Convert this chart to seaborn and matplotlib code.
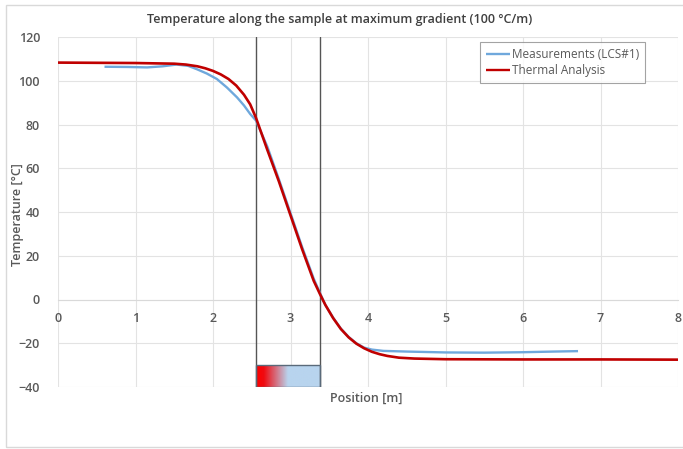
import matplotlib
matplotlib.use("Agg")
import matplotlib.pyplot as plt
import numpy as np
import pandas as pd
import seaborn as sns
from matplotlib.patches import Rectangle
from matplotlib.colors import LinearSegmentedColormap

# ---- data ----
red_x = [0.0, 0.5, 1.0, 1.5, 1.65, 1.8, 1.9, 2.0, 2.1, 2.2, 2.3, 2.4, 2.48, 2.555, 2.7, 2.85,
         3.0, 3.15, 3.3, 3.38, 3.45, 3.55, 3.65, 3.75, 3.85, 3.95, 4.05, 4.15, 4.25, 4.4,
         4.6, 5.0, 6.0, 7.0, 8.0]
red_y = [108.3, 108.2, 108.1, 107.8, 107.4, 106.6, 105.7, 104.5, 102.9, 100.8, 97.8, 93.6,
         89.2, 83.0, 68.5, 54.0, 38.5, 23.0, 8.5, 2.5, -2.5, -8.5, -13.5, -17.3, -20.2,
         -22.3, -23.9, -25.0, -25.8, -26.6, -27.0, -27.3, -27.4, -27.4, -27.5]

blue_x = [0.6, 0.9, 1.15, 1.35, 1.53, 1.68, 1.79, 1.92, 2.05, 2.18, 2.31, 2.4, 2.48, 2.555,
          2.7, 2.85, 3.0, 3.15, 3.3, 3.38, 3.45, 3.55, 3.65, 3.75, 3.85, 3.95, 4.05, 4.2,
          4.5, 5.0, 5.5, 6.0, 6.4, 6.71]
blue_y = [106.4, 106.3, 106.1, 106.6, 107.4, 106.8, 105.3, 103.3, 100.8, 96.9, 92.4, 88.7,
          84.8, 81.8, 70.0, 55.0, 39.5, 24.0, 9.5, 3.0, -2.5, -8.3, -13.3, -17.1, -20.0,
          -22.0, -22.9, -23.5, -23.8, -24.2, -24.3, -24.1, -23.8, -23.6]

zone = [2.555, 3.38]          # analysed section (vertical lines)
bar_range = [-40, -30]        # coloured bar

x_ticks = [0, 1, 2, 3, 4, 5, 6, 7, 8]
y_ticks = [-40, -20, 0, 20, 40, 60, 80, 100, 120]

df = pd.concat([
    pd.DataFrame({"x": blue_x, "y": blue_y, "s": "Measurements (LCS#1)"}),
    pd.DataFrame({"x": red_x, "y": red_y, "s": "Thermal Analysis"}),
])

# ---- plot ----
sns.set_theme(style="white")
plt.rcParams["font.family"] = ["Open Sans", "DejaVu Sans"]

fig = plt.figure(figsize=(6.83, 4.49), dpi=100)
ax = fig.add_axes([58/683, 1-387/449, 620/683, 350/449])

tc = "#595959"
ax.set_xlim(0, 8)
ax.set_ylim(-40, 120)
ax.set_xticks(x_ticks)
ax.set_yticks(y_ticks)
ax.grid(True, color="#E3E3E3", lw=0.8)
ax.set_axisbelow(True)

for s in ["top", "right", "left"]:
    ax.spines[s].set_visible(False)
ax.spines["bottom"].set_position(("data", 0))
ax.spines["bottom"].set_color("#D9D9D9")
ax.spines["bottom"].set_linewidth(0.8)
ax.spines["bottom"].set_zorder(1)
ax.tick_params(axis="both", length=0, labelsize=9, labelcolor=tc)
ax.tick_params(axis="x", pad=9)
ax.tick_params(axis="y", pad=13)
for lab in ax.get_xticklabels() + ax.get_yticklabels():
    lab.set_fontweight("semibold")

sns.lineplot(data=df, x="x", y="y", hue="s",
             palette={"Measurements (LCS#1)": "#6FA8DC", "Thermal Analysis": "#C00000"},
             sort=False, estimator=None, ax=ax, legend=True)
for ln in ax.lines:
    c = matplotlib.colors.to_hex(ln.get_color()).lower()
    ln.set_linewidth(1.9 if c == "#c00000" else 1.7)
    ln.set_zorder(6 if c == "#c00000" else 5)
    ln.set_solid_joinstyle("round")
    ln.set_solid_capstyle("butt")

for xv in zone:
    ax.axvline(xv, color="#555555", lw=1.0, zorder=4)

cmap = LinearSegmentedColormap.from_list("g", [(0, "#FF0000"), (0.12, "#F00A10"),
                                              (0.5, "#B8D4EE"), (1, "#B8D4EE")])
grad = np.linspace(0, 1, 200).reshape(1, -1)
ax.imshow(grad, cmap=cmap, extent=[zone[0], zone[1], bar_range[0], bar_range[1]],
          aspect="auto", zorder=3)
ax.add_patch(Rectangle((zone[0], bar_range[0]), zone[1]-zone[0], bar_range[1]-bar_range[0],
                       fill=False, edgecolor="#5A6A7A", lw=1.0, zorder=4))
ax.set_xlim(0, 8)
ax.set_ylim(-40, 120)

ax.set_xlabel("")
ax.set_ylabel("")
leg = ax.legend(loc="upper left", bbox_to_anchor=((480-58)/620, (387-42)/350),
                frameon=True, fancybox=False, fontsize=8.5, handlelength=2.0,
                handletextpad=0.2, borderpad=0.5, labelspacing=0.25,
                borderaxespad=0)
leg.get_frame().set_edgecolor("#8C8C8C")
leg.get_frame().set_linewidth(0.8)
leg.set_zorder(10)
for t in leg.get_texts():
    t.set_color(tc)
for h in leg.get_lines():
    h.set_linewidth(1.7)

fig.text(340/683, 1-20/449, "Temperature along the sample at maximum gradient (100 °C/m)",
         ha="center", va="center", fontsize=9, color="#404040", fontweight="semibold")
fig.text(366/683, 1-398/449, "Position [m]", ha="center", va="center",
         fontsize=9, color=tc, fontweight="semibold")
fig.text(18/683, 1-215/449, "Temperature [°C]", ha="center", va="center", rotation=90,
         fontsize=9, color=tc, fontweight="semibold")

fig.patches.append(Rectangle((6/683, 2/449), 1.0, 1-7/449, transform=fig.transFigure,
                             fill=False, edgecolor="#D9D9D9", lw=1.0))

fig.savefig("out.png", dpi=100)
